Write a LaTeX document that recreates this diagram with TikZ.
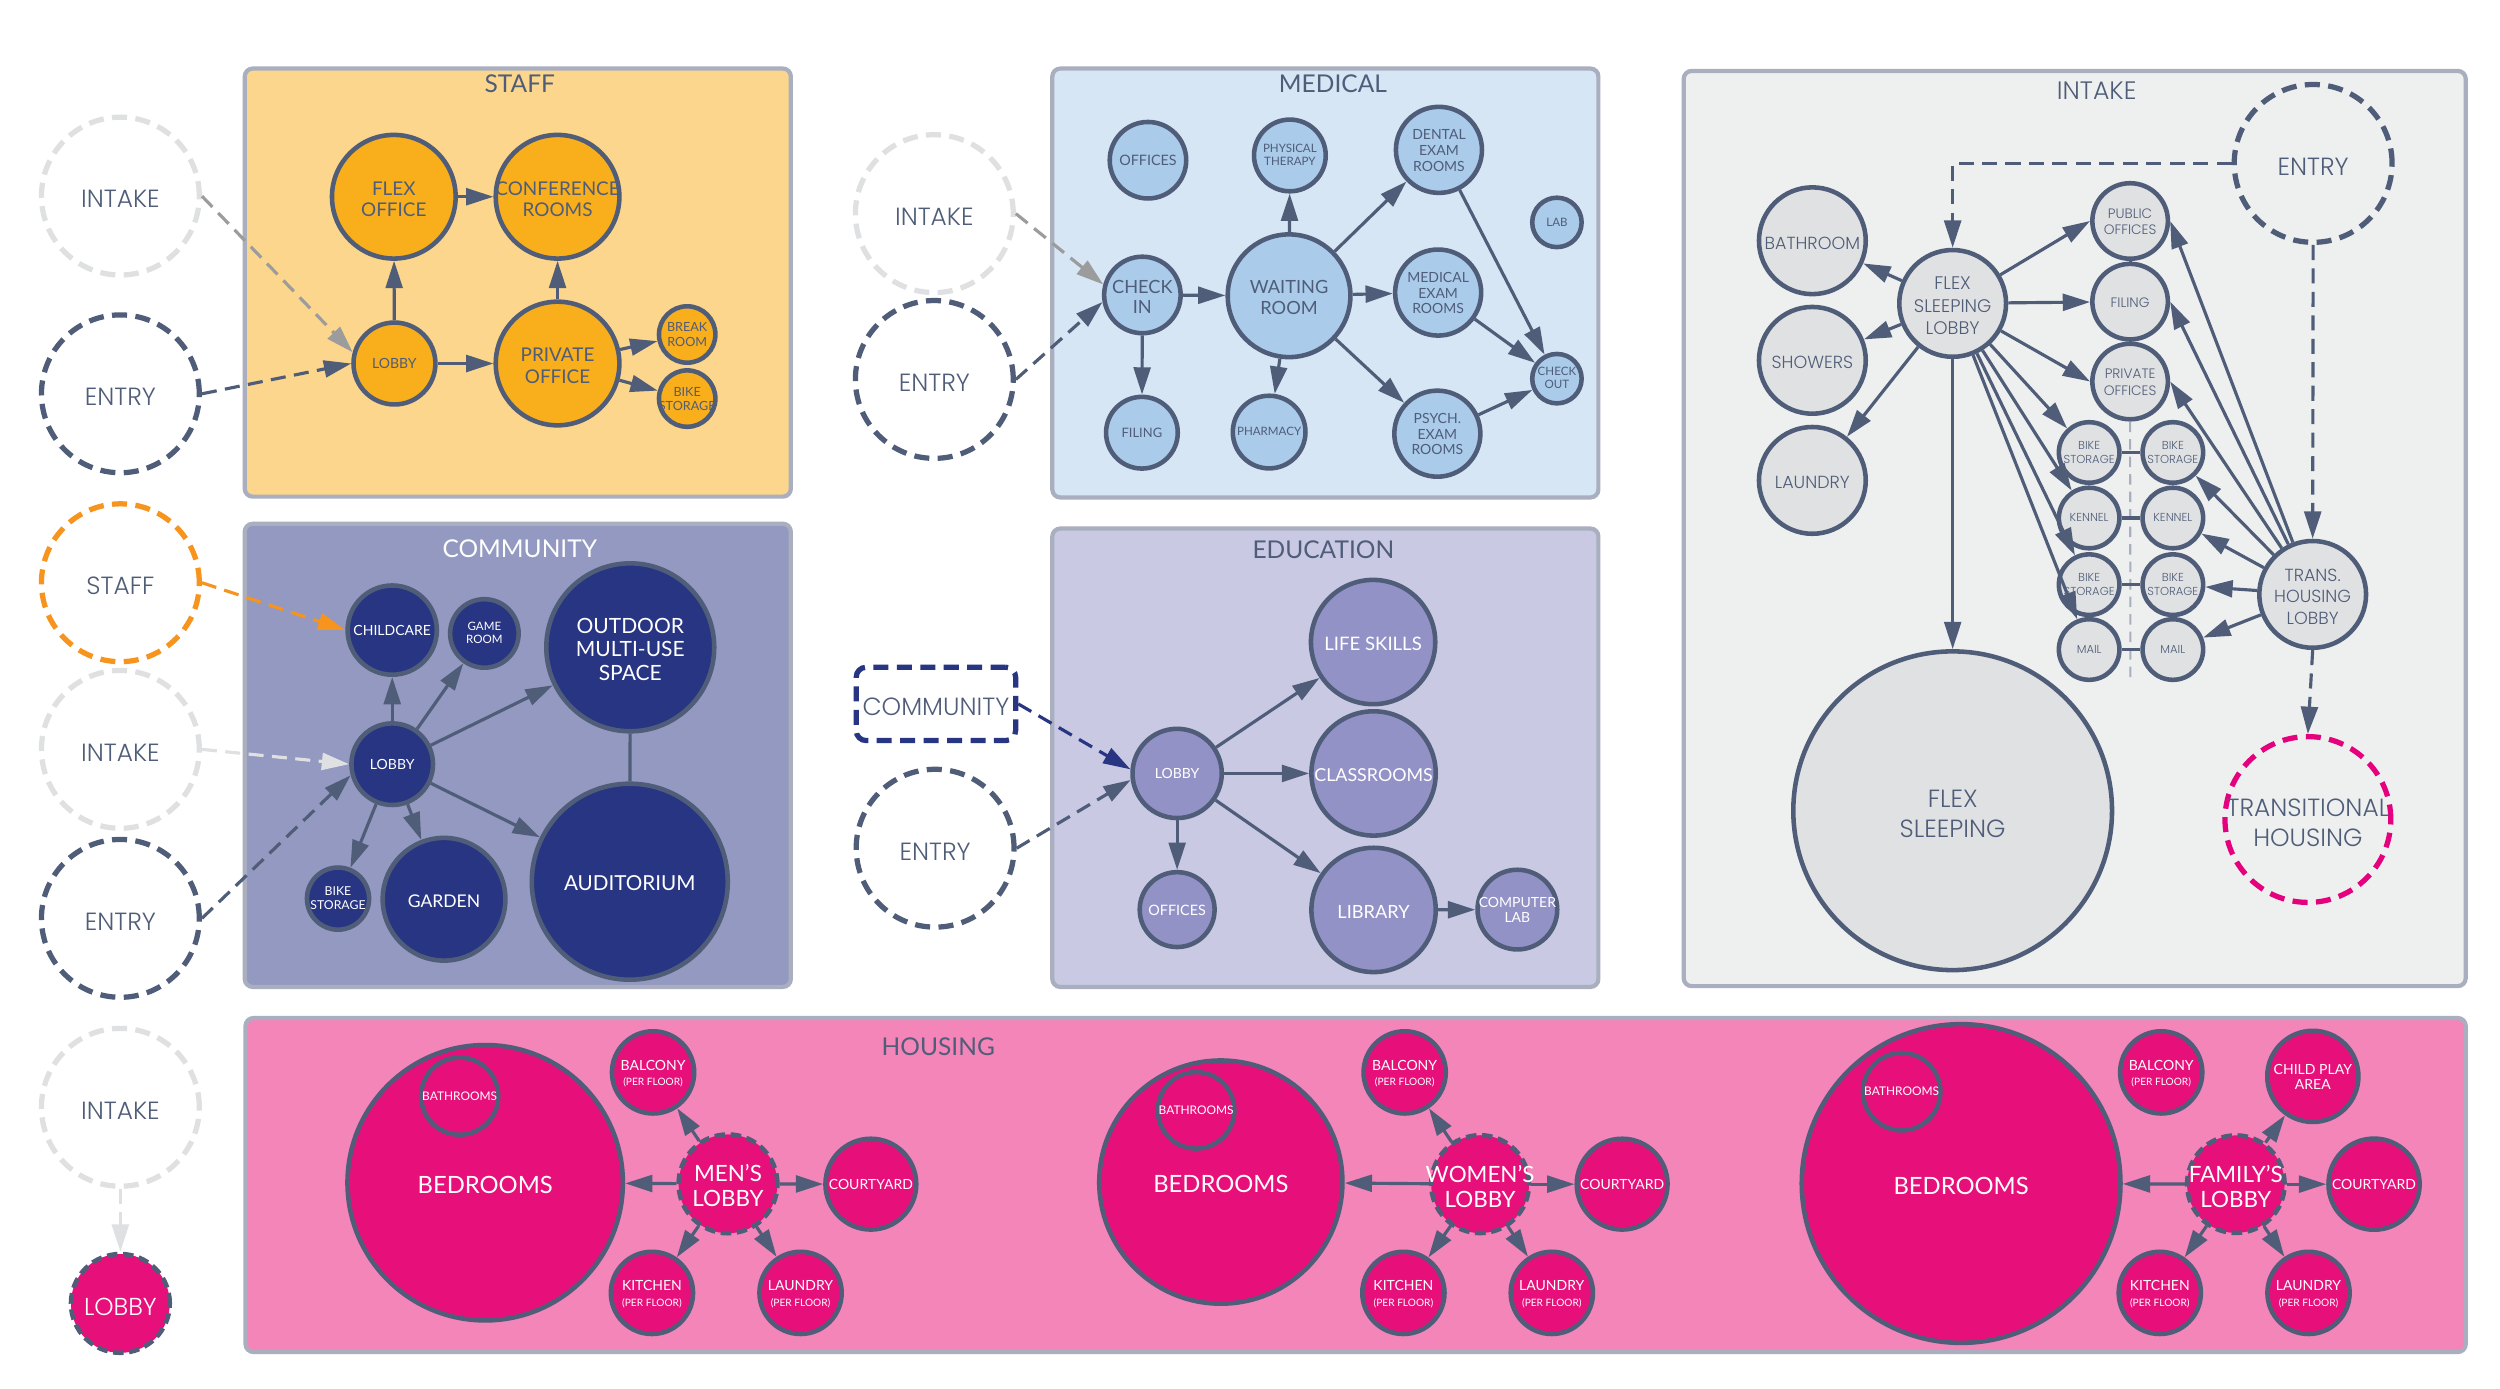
\documentclass[tikz,border=0pt]{standalone}
\usepackage{fontspec}
\setmainfont{Lato}
\IfFontExistsTF{Poppins Light}{\newfontfamily\pop{Poppins Light}}{\newfontfamily\pop{Poppins}}
\usetikzlibrary{arrows.meta,shapes.geometric}
\definecolor{slate}{HTML}{4F5D79}
\definecolor{boxline}{HTML}{A9AFBE}
\definecolor{staffbg}{HTML}{FBD68C}
\definecolor{staffn}{HTML}{F9AE1B}
\definecolor{medbg}{HTML}{D6E6F4}
\definecolor{medn}{HTML}{AACBEA}
\definecolor{combg}{HTML}{9399C0}
\definecolor{comn}{HTML}{283583}
\definecolor{edubg}{HTML}{C9C9E4}
\definecolor{edun}{HTML}{9392C7}
\definecolor{intbg}{HTML}{EEF0EF}
\definecolor{intn}{HTML}{E0E1E2}
\definecolor{housebg}{HTML}{F385B9}
\definecolor{housen}{HTML}{E7107B}
\definecolor{ltgray}{HTML}{DFE0E1}
\definecolor{midgray}{HTML}{9C9C9C}
\definecolor{orng}{HTML}{F7941D}
\definecolor{mgnta}{HTML}{E5007D}
\newcommand\fsz[1]{\fontsize{#1}{\fpeval{1.12*#1}}\selectfont}
\newcommand\pfs[1]{\fontsize{#1}{\fpeval{1.22*#1}}\selectfont}
\newcommand\tb[1]{\smash{\raisebox{-0.48em}{\makebox[0pt]{\begin{tabular}{@{}c@{}}#1\end{tabular}}}}}
\begin{document}
\begin{tikzpicture}[x=0.016cm,y=-0.016cm,
 zone/.style={draw=boxline,line width=1.2pt,rounded corners=0.08cm},
 ttl/.style={text=slate,font=\fsz{7},inner sep=0pt},
 nd/.style={circle,draw=slate,line width=1.3pt,inner sep=0pt,text=slate},
 rad/.style={minimum size=#1*0.032cm},
 fz/.style={font=\fsz{#1}},
 pz/.style={font=\pop\pfs{#1}},
 ar/.style={draw=slate,line width=0.9pt,-{Triangle[length=7.8pt,width=4.8pt]}},
 dsh/.style={dash pattern=on 4.3pt off 2.4pt},
 ext/.style={circle,dsh,line width=1.5pt,inner sep=0pt,minimum size=99*0.016cm,text=slate,font=\pop\pfs{7.1}},
 xar/.style={line width=0.9pt,dsh,-{Triangle[length=7.8pt,width=4.8pt]}},
 hn/.style={nd,fill=housen,text=white},
 hl/.style={nd,fill=housen,text=white,dash pattern=on 3pt off 1.6pt},
 cn/.style={nd,fill=comn,text=white},
 en/.style={nd,fill=edun,text=white},
]
\fill[white] (0,0) rectangle (1568,871);
\useasboundingbox (0,0) rectangle (1568,871);

% zones
\draw[zone,fill=staffbg] (153.5,43) rectangle (496,311.5);
\draw[zone,fill=medbg] (660,43) rectangle (1002.5,312);
\draw[zone,fill=intbg] (1056,44.5) rectangle (1546.5,618.5);
\draw[zone,fill=combg] (153.5,328.5) rectangle (496,619);
\draw[zone,fill=edubg] (660,331.5) rectangle (1002.5,619);
\draw[zone,fill=housebg] (154,638.5) rectangle (1546.5,848);

\node[ttl] (tstaff) at (326,52.5) {STAFF};
\node[ttl] (tmed) at (836,52.5) {MEDICAL};
\node[ttl,font=\pop\pfs{7.2}] (tint) at (1315,57) {INTAKE};
\node[ttl,text=white] (tcom) at (326,344) {COMMUNITY};
\node[ttl] (tedu) at (830,344.5) {EDUCATION};
\node[ttl] (thou) at (588.5,656.5) {HOUSING};

% left column
\node[ext,draw=ltgray] (lin1) at (75.5,123) {\tb{INTAKE}};
\node[ext,draw=slate] (len1) at (75.5,247) {\tb{ENTRY}};
\node[ext,draw=orng] (lst) at (75.5,365.5) {\tb{STAFF}};
\node[ext,draw=ltgray] (lin2) at (75.5,470) {\tb{INTAKE}};
\node[ext,draw=slate] (len2) at (75.5,576) {\tb{ENTRY}};
\node[ext,draw=ltgray] (lin3) at (75.5,694.5) {\tb{INTAKE}};
\node[hl,rad=31,pz=7] (llob) at (75.5,817.5) {\tb{LOBBY}};

% middle column
\node[ext,draw=ltgray] (min) at (586,134) {\tb{INTAKE}};
\node[ext,draw=slate] (men) at (586,238) {\tb{ENTRY}};
\node[draw=comn,dsh,line width=1.5pt,rounded corners=0.1cm,minimum width=100*0.016cm,minimum height=46*0.016cm,inner sep=0pt,text=slate,font=\pop\pfs{7.1}] (mcom) at (587,441.5) {\tb{COMMUNITY}};
\node[ext,draw=slate] (men2) at (586.5,532) {\tb{ENTRY}};

% staff
\node[nd,fill=staffn,rad=38.8,fz=5.4] (sflex) at (247,123.4) {\tb{FLEX\\OFFICE}};
\node[nd,fill=staffn,rad=38.8,fz=5.4] (sconf) at (349.7,123.4) {\tb{CONFERENCE\\ROOMS}};
\node[nd,fill=staffn,rad=25.7,fz=4] (slob) at (247.4,228) {\tb{LOBBY}};
\node[nd,fill=staffn,rad=38.8,fz=5.4] (spriv) at (349.7,228) {\tb{PRIVATE\\OFFICE}};
\node[nd,fill=staffn,rad=17.7,fz=3.6] (sbreak) at (431,209.8) {\tb{BREAK\\ROOM}};
\node[nd,fill=staffn,rad=17.7,fz=3.6] (sbike) at (431,250) {\tb{BIKE\\STORAGE}};
\draw[ar] (slob) -- (sflex);
\draw[ar] (sflex) -- (sconf);
\draw[ar] (slob) -- (spriv);
\draw[ar] (spriv) -- (sconf);
\draw[ar] (spriv) -- (sbreak);
\draw[ar] (spriv) -- (sbike);
\draw[xar,draw=midgray] (lin1.east) -- (slob.165);
\draw[xar,draw=slate] (len1.east) -- (slob.west);

% medical
\node[nd,fill=medn,rad=24,fz=4.1] (moff) at (720,100.5) {\tb{OFFICES}};
\node[nd,fill=medn,rad=22.5,fz=3.3] (mphy) at (809,97.5) {\tb{PHYSICAL\\THERAPY}};
\node[nd,fill=medn,rad=27,fz=4] (mden) at (902.5,94) {\tb{DENTAL\\EXAM\\ROOMS}};
\node[nd,fill=medn,rad=15.5,fz=3.3] (mlab) at (976.5,139.5) {\tb{LAB}};
\node[nd,fill=medn,rad=24,fz=5.2] (mchk) at (716.5,185) {\tb{CHECK\\IN}};
\node[nd,fill=medn,rad=38.5,fz=5.2] (mwait) at (808.5,185.5) {\tb{WAITING\\ROOM}};
\node[nd,fill=medn,rad=27,fz=4] (mmed) at (902,183.5) {\tb{MEDICAL\\EXAM\\ROOMS}};
\node[nd,fill=medn,rad=15.5,fz=3.3] (mout) at (976.5,237.5) {\tb{CHECK\\OUT}};
\node[nd,fill=medn,rad=22.5,fz=3.7] (mfil) at (716.2,271.4) {\tb{FILING}};
\node[nd,fill=medn,rad=22.8,fz=3.3] (mpha) at (796,271) {\tb{PHARMACY}};
\node[nd,fill=medn,rad=27,fz=4] (mpsy) at (901.5,272) {\tb{PSYCH.\\EXAM\\ROOMS}};
\draw[ar] (mchk) -- (mwait);
\draw[ar] (mchk) -- (mfil);
\draw[ar] (mwait) -- (mphy);
\draw[ar] (mwait) -- (mden);
\draw[ar] (mwait) -- (mmed);
\draw[ar] (mwait) -- (mpha);
\draw[ar] (mwait) -- (mpsy);
\draw[ar] (mden) -- (mout);
\draw[ar] (mmed) -- (mout);
\draw[ar] (mpsy) -- (mout);
\draw[xar,draw=midgray] (min.east) -- (mchk.165);
\draw[xar,draw=slate] (men.east) -- (mchk.190);

% community
\node[cn,rad=28,fz=4] (cchild) at (246,395.2) {\tb{CHILDCARE}};
\node[cn,rad=21.5,fz=3.3] (cgame) at (303.8,397.3) {\tb{GAME\\ROOM}};
\node[cn,rad=52.7,fz=6] (cout) at (395.3,406) {\tb{OUTDOOR\\MULTI-USE\\SPACE}};
\node[cn,rad=25.6,fz=4] (clob) at (246,479.3) {\tb{LOBBY}};
\node[cn,rad=19.5,fz=3.5] (cbike) at (212,563.6) {\tb{BIKE\\STORAGE}};
\node[cn,rad=38.5,fz=5] (cgar) at (278.5,564) {\tb{GARDEN}};
\node[cn,rad=61.5,fz=5.9] (caud) at (395,553) {\tb{AUDITORIUM}};
\draw[ar] (clob) -- (cchild);
\draw[ar] (clob) -- (cgame);
\draw[ar] (clob) -- (cout);
\draw[ar] (clob) -- (cbike);
\draw[ar] (clob) -- (cgar);
\draw[ar] (clob) -- (caud);
\draw[slate,line width=0.9pt] (cout) -- (caud);
\draw[xar,draw=orng] (lst.east) -- (cchild.west);
\draw[xar,draw=ltgray] (lin2.east) -- (clob.west);
\draw[xar,draw=slate] (len2.east) -- (clob.195);

% education
\node[en,rad=28,fz=4] (elob) at (738.3,485.1) {\tb{LOBBY}};
\node[en,rad=39,fz=5.3] (elife) at (861.2,402.7) {\tb{LIFE SKILLS}};
\node[en,rad=39,fz=5.1] (eclass) at (861.5,485.1) {\tb{CLASSROOMS}};
\node[en,rad=23.5,fz=4.1] (eoff) at (738.3,570.5) {\tb{OFFICES}};
\node[en,rad=39,fz=5.2] (elib) at (861.5,570.7) {\tb{LIBRARY}};
\node[en,rad=25,fz=4] (ecomp) at (951.7,570.5) {\tb{COMPUTER\\LAB}};
\draw[ar] (elob) -- (elife);
\draw[ar] (elob) -- (eclass);
\draw[ar] (elob) -- (eoff);
\draw[ar] (elob) -- (elib);
\draw[ar] (elib) -- (ecomp);
\draw[xar,draw=comn] (mcom.east) -- (elob.175);
\draw[xar,draw=slate] (men2.east) -- (elob.188);

% intake
\node[ext,draw=slate] (ient) at (1450.8,102.5) {\tb{ENTRY}};
\node[nd,fill=intn,rad=33.5,pz=5] (ibath) at (1136.7,151) {\tb{BATHROOM}};
\node[nd,fill=intn,rad=33.5,pz=5] (ishow) at (1136.7,226) {\tb{SHOWERS}};
\node[nd,fill=intn,rad=33.5,pz=5] (ilaun) at (1136.7,301.3) {\tb{LAUNDRY}};
\node[nd,fill=intn,rad=33.5,pz=5.2] (ifsl) at (1224.7,190.3) {\tb{FLEX\\SLEEPING\\LOBBY}};
\node[nd,fill=intn,rad=23.7,pz=3.9] (ipub) at (1336,138.6) {\tb{PUBLIC\\OFFICES}};
\node[nd,fill=intn,rad=23.7,pz=3.9] (ifil) at (1336,189.2) {\tb{FILING}};
\node[nd,fill=intn,rad=23.7,pz=3.9] (ipri) at (1336,239.3) {\tb{PRIVATE\\OFFICES}};
\node[nd,fill=intn,rad=19,pz=3.3] (ib1l) at (1310.3,283.8) {\tb{BIKE\\STORAGE}};
\node[nd,fill=intn,rad=19,pz=3.3] (ib1r) at (1362.8,283.8) {\tb{BIKE\\STORAGE}};
\node[nd,fill=intn,rad=19,pz=3.3] (ik1l) at (1310.3,324.9) {\tb{KENNEL}};
\node[nd,fill=intn,rad=19,pz=3.3] (ik1r) at (1362.8,324.9) {\tb{KENNEL}};
\node[nd,fill=intn,rad=19,pz=3.3] (ib2l) at (1310.3,366.7) {\tb{BIKE\\STORAGE}};
\node[nd,fill=intn,rad=19,pz=3.3] (ib2r) at (1362.8,366.7) {\tb{BIKE\\STORAGE}};
\node[nd,fill=intn,rad=19,pz=3.3] (imal) at (1310.3,407.4) {\tb{MAIL}};
\node[nd,fill=intn,rad=19,pz=3.3] (imar) at (1362.8,407.4) {\tb{MAIL}};
\node[nd,fill=intn,rad=33.5,pz=5] (ithl) at (1450.5,372.8) {\tb{TRANS.\\HOUSING\\LOBBY}};
\node[nd,fill=intn,rad=100,pz=7.1] (iflex) at (1224.7,508.5) {\tb{FLEX\\SLEEPING}};
\node[ext,draw=mgnta,minimum size=104*0.016cm] (itrans) at (1447.5,514) {\tb{TRANSITIONAL\\HOUSING}};
\coordinate (vdend) at (1336.2,427);
\draw[boxline,line width=0.6pt,dash pattern=on 3pt off 2pt] (ipri.south) -- (vdend);
\draw[slate,line width=0.9pt] (ipub) -- (ifil);
\draw[slate,line width=0.9pt] (ifil) -- (ipri);
\draw[slate,line width=0.9pt] (ib1l) -- (ib1r);
\draw[slate,line width=0.9pt] (ik1l) -- (ik1r);
\draw[slate,line width=0.9pt] (ib2l) -- (ib2r);
\draw[slate,line width=0.9pt] (imal) -- (imar);
\draw[ar] (ifsl) -- (ibath);
\draw[ar] (ifsl) -- (ishow);
\draw[ar] (ifsl) -- (ilaun);
\draw[ar] (ifsl) -- (ipub.west);
\draw[ar] (ifsl) -- (ifil);
\draw[ar] (ifsl) -- (ipri.west);
\draw[ar] (ifsl) -- (ib1l);
\draw[ar] (ifsl) -- (ik1l);
\draw[ar] (ifsl) -- (ib2l);
\draw[ar] (ifsl) -- (imal);
\draw[ar] (ifsl) -- (iflex);
\draw[ar] (ithl) -- (ipub.east);
\draw[ar] (ithl) -- (ifil.east);
\draw[ar] (ithl) -- (ipri.east);
\draw[ar] (ithl) -- (ib1r);
\draw[ar] (ithl) -- (ik1r);
\draw[ar] (ithl) -- (ib2r);
\draw[ar] (ithl) -- (imar);
\draw[xar,draw=slate] (ient.west) -| (ifsl.north);
\draw[xar,draw=slate] (ient.south) -- (ithl.north);
\draw[xar,draw=slate] (ithl.south) -- (itrans.north);

% housing - men
\node[hn,rad=86.4,fz=6.8] (hmbed) at (304.3,741.8) {\tb{BEDROOMS}};
\node[hn,rad=24.2,fz=3.4] (hmbath) at (288.3,687.5) {\tb{BATHROOMS}};
\node[hl,rad=31,fz=6.4] (hml) at (456.6,742.5) {\tb{MEN’S\\LOBBY}};
\node[hn,rad=25.8,fz=4] (hmbal) at (409.6,672.6) {\tb{BALCONY\\{\fsz{2.9}(PER FLOOR)}}};
\node[hn,rad=28.5,fz=4] (hmcou) at (546.2,742.7) {\tb{COURTYARD}};
\node[hn,rad=25.8,fz=4] (hmkit) at (408.9,810.9) {\tb{KITCHEN\\{\fsz{2.9}(PER FLOOR)}}};
\node[hn,rad=25.8,fz=4] (hmlau) at (502.1,810.9) {\tb{LAUNDRY\\{\fsz{2.9}(PER FLOOR)}}};
\draw[ar] (hml) -- (hmbed);
\draw[ar] (hml) -- (hmbal);
\draw[ar] (hml) -- (hmcou);
\draw[ar] (hml) -- (hmkit);
\draw[ar] (hml) -- (hmlau);

% housing - women
\node[hn,rad=76.3,fz=6.8] (hwbed) at (765.7,741.4) {\tb{BEDROOMS}};
\node[hn,rad=24,fz=3.4] (hwbath) at (750.2,696.4) {\tb{BATHROOMS}};
\node[hl,rad=30.7,fz=6.4] (hwl) at (928.3,742.7) {\tb{WOMEN’S\\LOBBY}};
\node[hn,rad=25.8,fz=4] (hwbal) at (881,672.6) {\tb{BALCONY\\{\fsz{2.9}(PER FLOOR)}}};
\node[hn,rad=28.5,fz=4] (hwcou) at (1017.4,742.7) {\tb{COURTYARD}};
\node[hn,rad=25.8,fz=4] (hwkit) at (880.2,810.9) {\tb{KITCHEN\\{\fsz{2.9}(PER FLOOR)}}};
\node[hn,rad=25.8,fz=4] (hwlau) at (973.3,810.9) {\tb{LAUNDRY\\{\fsz{2.9}(PER FLOOR)}}};
\draw[ar] (hwl) -- (hwbed);
\draw[ar] (hwl) -- (hwbal);
\draw[ar] (hwl) -- (hwcou);
\draw[ar] (hwl) -- (hwkit);
\draw[ar] (hwl) -- (hwlau);

% housing - family
\node[hn,rad=100,fz=6.8] (hfbed) at (1230,742.3) {\tb{BEDROOMS}};
\node[hn,rad=24.3,fz=3.4] (hfbath) at (1192.7,684.7) {\tb{BATHROOMS}};
\node[hl,rad=30.6,fz=6.4] (hfl) at (1402.3,742.7) {\tb{FAMILY’S\\LOBBY}};
\node[hn,rad=25.8,fz=4] (hfbal) at (1355.5,672.6) {\tb{BALCONY\\{\fsz{2.9}(PER FLOOR)}}};
\node[hn,rad=28.6,fz=4] (hfplay) at (1450.6,675.1) {\tb{CHILD PLAY\\AREA}};
\node[hn,rad=28.6,fz=4] (hfcou) at (1489,742.7) {\tb{COURTYARD}};
\node[hn,rad=25.8,fz=4] (hfkit) at (1354.6,810.9) {\tb{KITCHEN\\{\fsz{2.9}(PER FLOOR)}}};
\node[hn,rad=25.8,fz=4] (hflau) at (1447.9,810.9) {\tb{LAUNDRY\\{\fsz{2.9}(PER FLOOR)}}};
\draw[ar] (hfl) -- (hfbed);
\draw[ar] (hfl) -- (hfplay);
\draw[ar] (hfl) -- (hfcou);
\draw[ar] (hfl) -- (hfkit);
\draw[ar] (hfl) -- (hflau);

% bottom-left
\draw[xar,draw=ltgray] (lin3) -- (llob);
\end{tikzpicture}
\end{document}
